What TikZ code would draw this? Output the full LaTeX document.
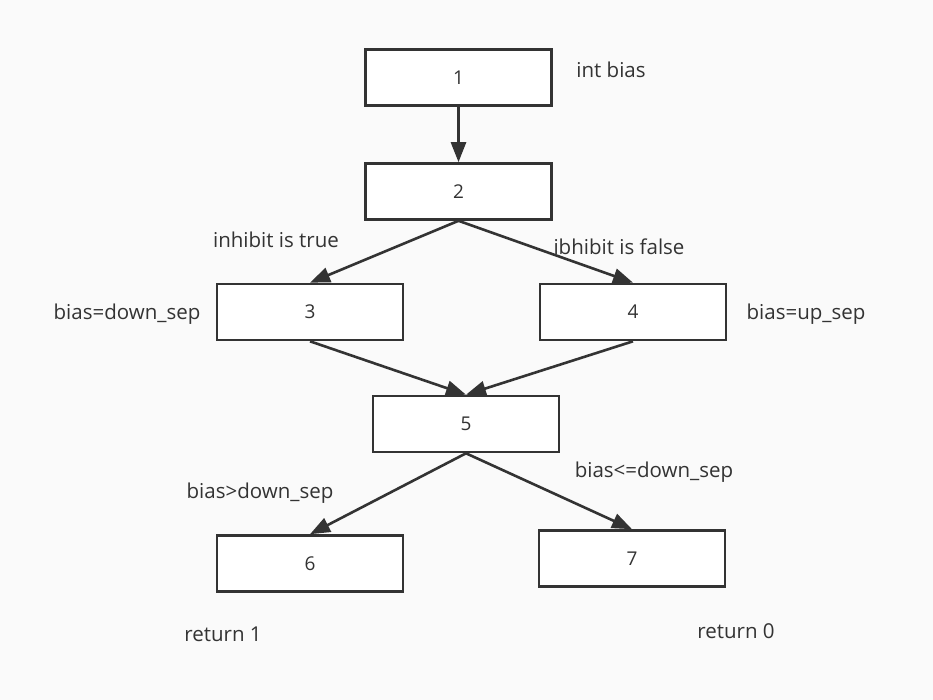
\documentclass[tikz,border=0pt]{standalone}
\usepackage{fontspec}
\setmainfont{Open Sans}
\usetikzlibrary{arrows.meta}
\definecolor{bg}{HTML}{FAFAFA}
\definecolor{ink}{HTML}{333333}
\newcommand{\bxt}[1]{\raisebox{-2.5pt}{#1}}
\begin{document}
\begin{tikzpicture}[x=1pt,y=-1pt,
  box/.style={draw=ink,fill=white,line width=2.6pt,minimum width=186pt,minimum height=56pt,inner sep=0pt,text=ink,font=\fontsize{19}{22}\selectfont},
  lbl/.style={text=ink,inner sep=0pt,font=\fontsize{20.5}{24}\selectfont},
  arr/.style={draw=ink,line width=2.6pt,-{Triangle[length=20pt,width=15pt]}}]
\fill[bg] (0,0) rectangle (933,700);
\useasboundingbox (0,0) rectangle (933,700);
\node[box] (n1) at (458.5,77.5) {\bxt{1}};
\node[box] (n2) at (458.5,191.5) {\bxt{2}};
\node[box] (n3) at (310,312) {\bxt{3}};
\node[box] (n4) at (633,312) {\bxt{4}};
\node[box] (n5) at (466,424) {\bxt{5}};
\node[box] (n6) at (310,563.5) {\bxt{6}};
\node[box] (n7) at (632,558.5) {\bxt{7}};
\draw[arr] (n1.south) -- (n2.north);
\draw[arr] (n2.south) -- (n3.north);
\draw[arr] (n2.south) -- (n4.north);
\draw[arr] (n3.south) -- (n5.north);
\draw[arr] (n4.south) -- (n5.north);
\draw[arr] (n5.south) -- (n6.north);
\draw[arr] (n5.south) -- (n7.north);
\node[lbl] (l1) at (611,70) {int bias};
\node[lbl] (l2) at (276,240) {inhibit is true};
\node[lbl] (l3) at (619,247) {ibhibit is false};
\node[lbl] (l4) at (127,314) {bias=down\_sep};
\node[lbl] (l5) at (806,314) {bias=up\_sep};
\node[lbl] (l6) at (260,493) {bias>down\_sep};
\node[lbl] (l7) at (654,472) {bias<=down\_sep};
\node[lbl] (l8) at (223,634) {return 1};
\node[lbl] (l9) at (736,631) {return 0};
\end{tikzpicture}
\end{document}
